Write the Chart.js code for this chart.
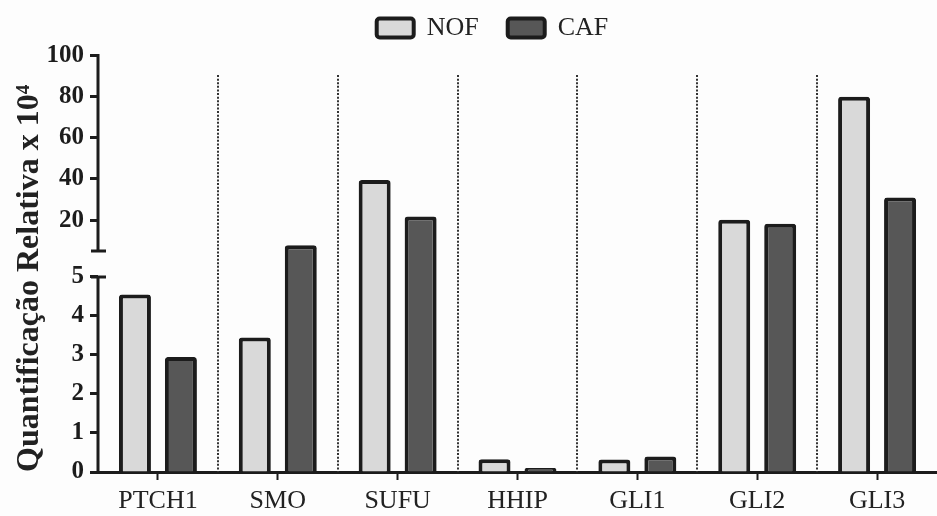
<!DOCTYPE html>
<html>
<head>
<meta charset="utf-8">
<script src="https://cdn.jsdelivr.net/npm/chart.js@4/dist/chart.umd.min.js"></script>
<style>
  html, body { margin: 0; padding: 0; background: #fdfdfd; }
  #wrap { width: 937px; height: 516px; position: relative; }
</style>
</head>
<body>
<div id="wrap"><canvas id="c"></canvas></div>
<script>
// Genes on the x axis
const genes = ['PTCH1', 'SMO', 'SUFU', 'HHIP', 'GLI1', 'GLI2', 'GLI3'];
// Relative quantification (x 10^4)
const nofValues = [4.55, 3.45, 39.5, 0.33, 0.32, 20.2, 80];
const cafValues = [2.95, 7.8, 21.8, 0.10, 0.40, 18.3, 31];
// Tick labels of the broken y axis
const yTicks = [0, 1, 2, 3, 4, 5, 20, 40, 60, 80, 100];
const seriesNames = ['NOF', 'CAF'];

const INK = '#1c1c1c';
const SERIF = "'Liberation Serif', 'Times New Roman', serif";

// Axis break: 0-5 on the lower segment, 5-100 on the upper one
const BREAK_LOW = 5, BREAK_HIGH = 5;
const LOW_SHARE = 0.4682;   // fraction of axis height used by the lower segment
const HIGH_START = 0.5306;  // fraction where the upper segment begins

class BrokenLinearScale extends Chart.LinearScale {
  _decimal(v) {
    if (v <= BREAK_LOW) return (v - this.min) / (BREAK_LOW - this.min) * LOW_SHARE;
    if (v > BREAK_HIGH) return HIGH_START + (v - BREAK_HIGH) / (this.max - BREAK_HIGH) * (1 - HIGH_START);
    return LOW_SHARE;
  }
  getPixelForValue(v) {
    return v === null || v === undefined ? NaN : this.getPixelForDecimal(this._decimal(v));
  }
  getValueForPixel(p) {
    const d = this.getDecimalForPixel(p);
    if (d <= LOW_SHARE) return this.min + d / LOW_SHARE * (BREAK_LOW - this.min);
    if (d >= HIGH_START) return BREAK_HIGH + (d - HIGH_START) / (1 - HIGH_START) * (this.max - BREAK_HIGH);
    return BREAK_LOW;
  }
  buildTicks() {
    return yTicks.map(v => ({ value: v }));
  }
}
BrokenLinearScale.id = 'brokenLinear';
BrokenLinearScale.defaults = Chart.LinearScale.defaults;
Chart.register(BrokenLinearScale);

// Draws the two y-axis segments with break caps, and the dotted group separators
const axisDecor = {
  id: 'axisDecor',
  beforeDatasetsDraw(chart) {
    const xs = chart.scales.x, ys = chart.scales.y, ctx = chart.ctx;
    const top = ys.getPixelForValue(90.5), bottom = ys.getPixelForValue(0);
    ctx.save();
    ctx.strokeStyle = '#333';
    ctx.lineWidth = 2;
    ctx.setLineDash([2, 1.6]);
    for (let i = 1; i < genes.length; i++) {
      const x = Math.round((xs.getPixelForValue(i - 1) + xs.getPixelForValue(i)) / 2);
      ctx.beginPath();
      ctx.moveTo(x, top);
      ctx.lineTo(x, bottom);
      ctx.stroke();
    }
    ctx.restore();
  },
  afterDraw(chart) {
    const ys = chart.scales.y, ctx = chart.ctx;
    const x = ys.right;
    const upTop = ys.getPixelForValue(ys.max);
    const upBottom = ys.getPixelForDecimal(HIGH_START);
    const lowTop = ys.getPixelForDecimal(LOW_SHARE);
    const lowBottom = ys.getPixelForValue(ys.min);
    ctx.save();
    ctx.strokeStyle = INK;
    ctx.lineWidth = 3;
    ctx.lineCap = 'butt';
    ctx.beginPath();
    ctx.moveTo(x, upTop - 1.5); ctx.lineTo(x, upBottom);
    ctx.moveTo(x, lowTop); ctx.lineTo(x, lowBottom + 1.5);
    ctx.stroke();
    ctx.beginPath();
    ctx.moveTo(x - 7, upBottom); ctx.lineTo(x + 8, upBottom);
    ctx.moveTo(x - 7, lowTop); ctx.lineTo(x + 8, lowTop);
    ctx.stroke();
    ctx.restore();
  },
  afterLayout(chart) {
    // legend sits a little right of the canvas centre and slightly higher
    const lg = chart.legend;
    if (lg) { lg.left += 24; lg.right += 24; lg.top -= 4.5; lg.bottom -= 4.5; }
  }
};

new Chart(document.getElementById('c'), {
  type: 'bar',
  data: {
    labels: genes,
    datasets: [
      {
        label: seriesNames[0], data: nofValues,
        backgroundColor: '#d9d9d9', borderColor: INK, borderWidth: 4, borderRadius: 3,
        categoryPercentage: 0.767, barPercentage: 0.696
      },
      {
        label: seriesNames[1], data: cafValues,
        backgroundColor: '#575757', borderColor: INK, borderWidth: 4, borderRadius: 3,
        categoryPercentage: 0.767, barPercentage: 0.696
      }
    ]
  },
  options: {
    responsive: true,
    maintainAspectRatio: false,
    animation: false,
    devicePixelRatio: 1,
    layout: { padding: { top: -9.5, right: 0, left: 0, bottom: 0 } },
    plugins: {
      tooltip: { enabled: false },
      legend: {
        position: 'top',
        labels: {
          boxWidth: 37, boxHeight: 19, padding: 29,
          useBorderRadius: true, borderRadius: 3,
          color: '#222',
          font: { family: SERIF, size: 26 }
        }
      }
    },
    scales: {
      x: {
        offset: true,
        afterFit(scale) { scale.height = 44; },
        grid: { offset: false, drawOnChartArea: false, drawTicks: true, tickLength: 8, tickWidth: 2, tickColor: INK },
        border: { display: true, color: INK, width: 3 },
        ticks: { color: '#222', padding: 6, font: { family: SERIF, size: 26 } }
      },
      y: {
        type: 'brokenLinear',
        min: 0, max: 100,
        afterFit(scale) { scale.width = 98; },
        grid: { drawOnChartArea: false, drawTicks: true, tickLength: 8, tickWidth: 3, tickColor: INK },
        border: { display: false },
        ticks: {
          autoSkip: false, color: INK, padding: 6,
          font: { family: SERIF, size: 25, weight: 'bold' },
          callback: v => String(v)
        },
        title: {
          display: true, text: 'Quantificação Relativa x 10⁴', align: 'start',
          color: '#222', padding: { top: 11, bottom: 0 },
          font: { family: SERIF, size: 32, weight: 'bold' }
        }
      }
    }
  },
  plugins: [axisDecor]
});
</script>
</body>
</html>
